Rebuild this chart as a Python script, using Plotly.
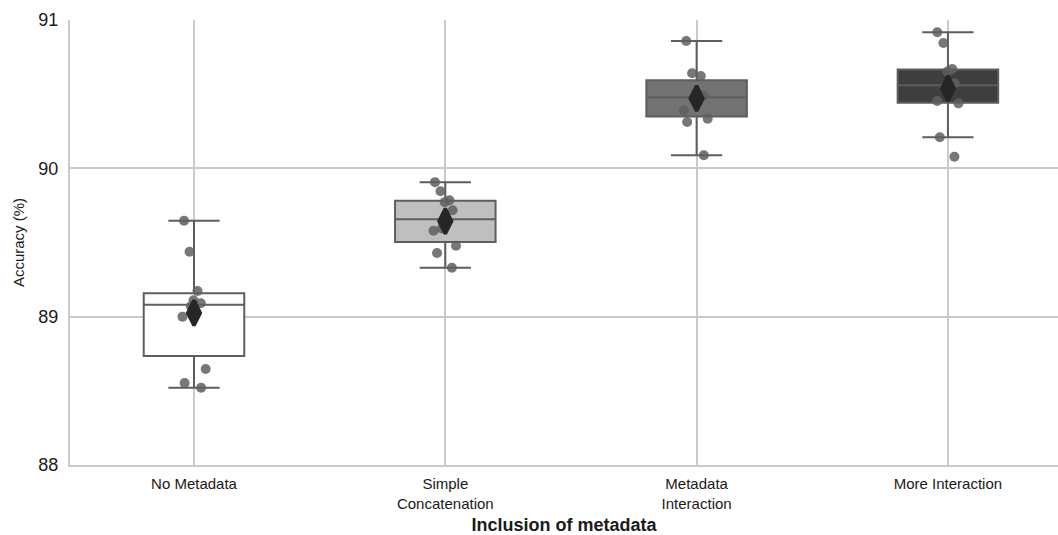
import numpy as np
import plotly.graph_objects as go

# ---- data ----
categories = ["No Metadata", "Simple<br>Concatenation", "Metadata<br>Interaction", "More Interaction"]

no_metadata = [89.647, 89.438, 89.173, 89.110, 89.090, 89.070, 89.000, 88.647, 88.553, 88.521]
simple_concat = [89.907, 89.845, 89.785, 89.772, 89.717, 89.595, 89.580, 89.478, 89.429, 89.330]
metadata_inter = [90.858, 90.641, 90.622, 90.510, 90.490, 90.470, 90.390, 90.335, 90.312, 90.088]
more_inter = [90.917, 90.845, 90.670, 90.652, 90.573, 90.547, 90.454, 90.438, 90.209, 90.078]

series = [no_metadata, simple_concat, metadata_inter, more_inter]
box_fills = ["#ffffff", "#bfbfbf", "#727272", "#3e3e3e"]

y_ticks = [88, 89, 90, 91]


def box_stats(values):
    a = np.asarray(values, dtype=float)
    q1, med, q3 = np.percentile(a, [25, 50, 75])
    iqr = q3 - q1
    lo = a[a >= q1 - 1.5 * iqr].min()
    hi = a[a <= q3 + 1.5 * iqr].max()
    return q1, med, q3, lo, hi, a.mean()


fig = go.Figure()
BOX_W = 0.40
LINE_C = "#5e5e5e"

means = []
for cat, vals, fill in zip(categories, series, box_fills):
    q1, med, q3, lo, hi, mn = box_stats(vals)
    means.append(mn)
    fig.add_trace(go.Box(
        x=[cat], q1=[q1], median=[med], q3=[q3],
        lowerfence=[lo], upperfence=[hi],
        width=BOX_W, whiskerwidth=0.51,
        fillcolor=fill, line=dict(color=LINE_C, width=2),
        boxpoints=False, showlegend=False, hoverinfo="skip",
    ))

for cat, vals in zip(categories, series):
    fig.add_trace(go.Box(
        x=[cat] * len(vals), y=vals,
        width=BOX_W, boxpoints="all", jitter=0.3, pointpos=0,
        fillcolor="rgba(0,0,0,0)", line=dict(color="rgba(0,0,0,0)", width=0),
        marker=dict(color="rgba(95,95,95,0.85)", size=10, line=dict(width=0)),
        showlegend=False,
    ))

fig.add_trace(go.Scatter(
    x=categories, y=means, mode="markers",
    marker=dict(symbol="diamond-tall", size=18, color="#262626",
                line=dict(color="#262626", width=3.5)),
    showlegend=False,
))

grid_c = "#cacaca"
fig.update_layout(
    width=1058, height=535,
    margin=dict(l=70, r=0, t=20, b=70),
    paper_bgcolor="white", plot_bgcolor="white",
    boxmode="overlay",
    font=dict(family="Liberation Sans, Arial, sans-serif", color="#1a1a1a"),
    xaxis=dict(
        type="category", range=[-0.4934, 3.438], automargin=False,
        showgrid=True, gridcolor=grid_c, gridwidth=2,
        showline=True, linecolor=grid_c, linewidth=2,
        zeroline=False, ticks="", tickfont=dict(size=15),
        ticklabelstandoff=4,
        title=dict(text="<b>Inclusion of metadata</b>", font=dict(size=18), standoff=16),
    ),
    yaxis=dict(
        range=[88, 91], tickvals=y_ticks, automargin=False,
        showgrid=True, gridcolor=grid_c, gridwidth=2,
        showline=True, linecolor=grid_c, linewidth=2,
        zeroline=False, ticks="", tickfont=dict(size=18),
        ticklabelstandoff=6,
        title=dict(text="Accuracy (%)", font=dict(size=15), standoff=10),
    ),
)

fig.write_html("out.html")
